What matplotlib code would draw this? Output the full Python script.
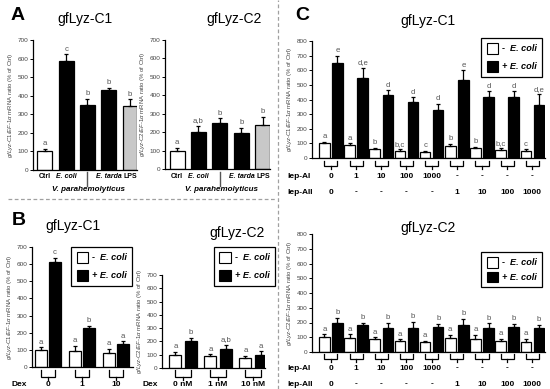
import matplotlib
matplotlib.use("Agg")
import matplotlib.pyplot as plt
from matplotlib.lines import Line2D
from matplotlib.patches import Patch
from matplotlib.transforms import blended_transform_factory

plt.rcParams["font.family"] = ["Liberation Sans", "DejaVu Sans"]
plt.rcParams["mathtext.fontset"] = "custom"
plt.rcParams["mathtext.rm"] = "Liberation Sans"
plt.rcParams["mathtext.it"] = "Liberation Sans:italic"
plt.rcParams["mathtext.bf"] = "Liberation Sans:bold"

# ---- panel A: infection / LPS ----
a_cats = ["Ctrl", "E. coli", "V. parahemolyticus", "E. tarda", "LPS"]
a1_vals = [100, 588, 352, 432, 346]
a1_err = [15, 35, 32, 12, 35]
a1_let = ["a", "c", "b", "b", "b"]
a2_vals = [100, 200, 250, 195, 238]
a2_err = [15, 35, 25, 30, 45]
a2_let = ["a", "a,b", "b", "b", "b"]

# ---- panel B: Dex ----
b1_groups = ["0", "1", "10"]
b2_groups = ["0 nM", "1 nM", "10 nM"]
b1_neg = [100, 95, 80]
b1_neg_err = [15, 30, 25]
b1_pos = [615, 225, 135]
b1_pos_err = [20, 15, 15]
b1_neg_let = ["a", "a", "a"]
b1_pos_let = ["c", "b", "a"]
b2_neg = [100, 88, 72]
b2_neg_err = [20, 15, 20]
b2_pos = [200, 140, 98]
b2_pos_err = [25, 35, 28]
b2_neg_let = ["a", "a", "a"]
b2_pos_let = ["b", "a,b", "a"]

# ---- panel C: lep-AI / lep-AII ----
lep_ai = ["0", "1", "10", "100", "1000", "-", "-", "-", "-"]
lep_aii = ["0", "-", "-", "-", "-", "1", "10", "100", "1000"]
c1_neg = [100, 90, 60, 50, 40, 80, 70, 55, 50]
c1_neg_err = [12, 10, 8, 10, 8, 15, 8, 10, 10]
c1_pos = [650, 545, 428, 380, 330, 530, 420, 420, 360]
c1_pos_err = [50, 72, 35, 35, 40, 70, 35, 35, 75]
c1_neg_let = ["a", "a", "b", "b,c", "c", "b", "b", "b,c", "c"]
c1_pos_let = ["e", "d,e", "d", "d", "d", "e", "d", "d", "d,e"]
c2_neg = [100, 95, 85, 75, 65, 95, 90, 75, 70]
c2_neg_err = [20, 25, 15, 10, 10, 20, 25, 15, 20]
c2_pos = [200, 180, 165, 165, 170, 185, 165, 170, 165]
c2_pos_err = [30, 20, 35, 40, 20, 40, 30, 20, 20]
c2_neg_let = ["a"] * 9
c2_pos_let = ["b"] * 9

W, H = 550, 389
fig = plt.figure(figsize=(W / 100, H / 100), dpi=100)
fig.patch.set_facecolor("white")

lab_col = "#444444"


def fy(py):
    return 1 - py / H


def fx(px):
    return px / W


def px_axes(l, t, r, b):
    return fig.add_axes([l / W, 1 - b / H, (r - l) / W, (b - t) / H])


def ylabel_for(gene):
    return r"$gfLyz$-$%s/EF$-$1\alpha$ mRNA ratio (%% of Ctrl)" % gene


def style_axes(ax, ymax, gene):
    ax.set_ylim(0, ymax)
    ax.set_yticks(range(0, ymax + 1, 100))
    for s in ["top", "right"]:
        ax.spines[s].set_visible(False)
    for s in ["left", "bottom"]:
        ax.spines[s].set_linewidth(0.9)
    ax.tick_params(axis="y", labelsize=4.6, length=2.5, width=0.7, pad=0.8, labelcolor=lab_col)
    ax.tick_params(axis="x", bottom=False, labelbottom=False)
    ax.set_ylabel(ylabel_for(gene), fontsize=4.3, color=lab_col, labelpad=1.5)
    ax.set_facecolor("none")


def bars(ax, x, vals, errs, lets, color, width):
    ax.bar(x, vals, width=width, color=color, edgecolor="black", linewidth=0.9, zorder=2)
    ax.errorbar(x, vals, yerr=[[0] * len(vals), errs], fmt="none", ecolor="black",
                elinewidth=0.9, capsize=1.6, capthick=0.9, zorder=3)
    for xi, v, e, t in zip(x, vals, errs, lets):
        ax.annotate(t, (xi, v + e), xytext=(0, 1.2), textcoords="offset points",
                    ha="center", va="bottom", fontsize=5.6, color="#555555")


def brackets(ax, centers, off, y0, y1, y2, labels_rows):
    tr = blended_transform_factory(ax.transData, fig.transFigure)
    for c in centers:
        ax.plot([c - off, c - off, c + off, c + off], [fy(y0), fy(y1), fy(y1), fy(y0)],
                transform=tr, color="black", lw=0.9, clip_on=False, solid_joinstyle="miter")
        ax.plot([c, c], [fy(y1), fy(y2)], transform=tr, color="black", lw=0.9, clip_on=False)
    for py, labs in labels_rows:
        for c, t in zip(centers, labs):
            ax.text(c, fy(py), t, transform=tr, ha="center", va="center",
                    fontsize=6, fontweight="bold")


def legend_box(ax, right, top, size=7, spacing=0.7):
    handles = [Patch(facecolor="white", edgecolor="black", linewidth=0.8),
               Patch(facecolor="black", edgecolor="black", linewidth=0.8)]
    leg = ax.legend(handles, ["-  E. coli", "+ E. coli"], loc="upper right",
                    bbox_to_anchor=(fx(right), fy(top)), bbox_transform=fig.transFigure,
                    prop=dict(style="italic", weight="bold", size=size),
                    frameon=True, fancybox=False, framealpha=1, edgecolor="black",
                    handlelength=1.3, handleheight=1.4, handletextpad=0.4,
                    borderpad=0.55, labelspacing=spacing, borderaxespad=0)
    leg.get_frame().set_linewidth(0.9)


# ---------------- A ----------------
for (l, t, r, b), vals, errs, lets, gene, tx in [
    ((33, 40, 137, 170), a1_vals, a1_err, a1_let, "C1", 85),
    ((165, 40, 270, 169), a2_vals, a2_err, a2_let, "C2", 234),
]:
    ax = px_axes(l, t, r, b)
    style_axes(ax, 700, gene)
    x = list(range(len(a_cats)))
    cols = ["white", "black", "black", "black", "#c8c8c8"]
    ax.bar(x, vals, width=0.7, color=cols, edgecolor="black", linewidth=0.9, zorder=2)
    ax.errorbar(x, vals, yerr=[[0] * len(vals), errs], fmt="none", ecolor="black",
                elinewidth=0.9, capsize=1.6, capthick=0.9, zorder=3)
    for xi, v, e, tt in zip(x, vals, errs, lets):
        ax.annotate(tt, (xi, v + e), xytext=(0, 1.2), textcoords="offset points",
                    ha="center", va="bottom", fontsize=5.6, color="#555555")
    ax.set_xlim(-0.56, 4.33)
    tr = blended_transform_factory(ax.transData, fig.transFigure)
    for xi, cat in zip(x, a_cats):
        if xi == 2:
            ax.plot([xi, xi], [fy(172), fy(186)], transform=tr, color="#555555", lw=1.0, clip_on=False)
            ax.text(xi + 0.05, fy(190), cat, transform=tr, ha="center", va="center", fontsize=5.8,
                    fontweight="bold", style="italic")
        else:
            ax.text(xi, fy(177), cat, transform=tr, ha="center", va="center", fontsize=5.0,
                    fontweight="bold", style="normal" if cat in ("Ctrl", "LPS") else "italic")
    fig.text(fx(tx), fy(19), "gfLyz-" + gene, ha="center", va="center", fontsize=10)

fig.text(fx(18), fy(15), "A", ha="center", va="center", fontsize=14, fontweight="bold")

# ---------------- B ----------------
for (l, t, r, b), xl, off, wd, groups, neg, nerr, nlet, pos, perr, plet, gene, tpos, dexx, leg in [
    ((32, 247, 133, 367), (-0.47, 2.5), 0.2, 0.36, b1_groups, b1_neg, b1_neg_err, b1_neg_let,
     b1_pos, b1_pos_err, b1_pos_let, "C1", (73, 226), 19, (132, 247)),
    ((162, 275, 265, 368), (-0.6, 2.34), 0.22, 0.34, b2_groups, b2_neg, b2_neg_err, b2_neg_let,
     b2_pos, b2_pos_err, b2_pos_let, "C2", (237, 233), 150, (275, 247)),
]:
    ax = px_axes(l, t, r, b)
    style_axes(ax, 700, gene)
    g = list(range(len(groups)))
    bars(ax, [i - off for i in g], neg, nerr, nlet, "white", wd)
    bars(ax, [i + off for i in g], pos, perr, plet, "black", wd)
    ax.set_xlim(*xl)
    brackets(ax, g, off, 370, 377, 380, [(385, groups)])
    fig.text(fx(dexx), fy(385), "Dex", ha="center", va="center", fontsize=6, fontweight="bold")
    fig.text(fx(tpos[0]), fy(tpos[1]), "gfLyz-" + gene, ha="center", va="center", fontsize=10)
    legend_box(ax, *leg, size=6.6, spacing=0.8)

fig.text(fx(19), fy(221), "B", ha="center", va="center", fontsize=14, fontweight="bold")

# ---------------- C ----------------
for (l, t, r, b), neg, nerr, nlet, pos, perr, plet, gene, ty, br, rows, leg, sp in [
    ((312, 41, 545, 158), c1_neg, c1_neg_err, c1_neg_let, c1_pos, c1_pos_err, c1_pos_let,
     "C1", 21, (161, 166, 169), (176, 192), (542, 38), 0.8),
    ((312, 234, 545, 352), c2_neg, c2_neg_err, c2_neg_let, c2_pos, c2_pos_err, c2_pos_let,
     "C2", 228, (354, 359, 362), (368, 384), (542, 252), 0.45),
]:
    ax = px_axes(l, t, r, b)
    style_axes(ax, 800, gene)
    g = list(range(len(lep_ai)))
    off = 0.26
    bars(ax, [i - off for i in g], neg, nerr, nlet, "white", 0.42)
    bars(ax, [i + off for i in g], pos, perr, plet, "black", 0.42)
    ax.set_xlim(-0.75, 8.5)
    brackets(ax, g, off, br[0], br[1], br[2], [(rows[0], lep_ai), (rows[1], lep_aii)])
    fig.text(fx(287), fy(rows[0]), "lep-AI", ha="left", va="center", fontsize=6, fontweight="bold")
    fig.text(fx(287), fy(rows[1]), "lep-AII", ha="left", va="center", fontsize=6, fontweight="bold")
    fig.text(fx(428), fy(ty), "gfLyz-" + gene, ha="center", va="center", fontsize=10)
    legend_box(ax, *leg, size=6.6, spacing=sp)

fig.text(fx(302), fy(15), "C", ha="center", va="center", fontsize=14, fontweight="bold")

# dashed separators
fig.add_artist(Line2D([fx(8), fx(276)], [fy(199), fy(199)], transform=fig.transFigure,
                      color="#a0a0a0", lw=0.9, ls=(0, (3, 2))))
fig.add_artist(Line2D([fx(278), fx(278)], [0, 1], transform=fig.transFigure,
                      color="#a0a0a0", lw=0.9, ls=(0, (3, 2))))

fig.savefig("out.png", dpi=100)
